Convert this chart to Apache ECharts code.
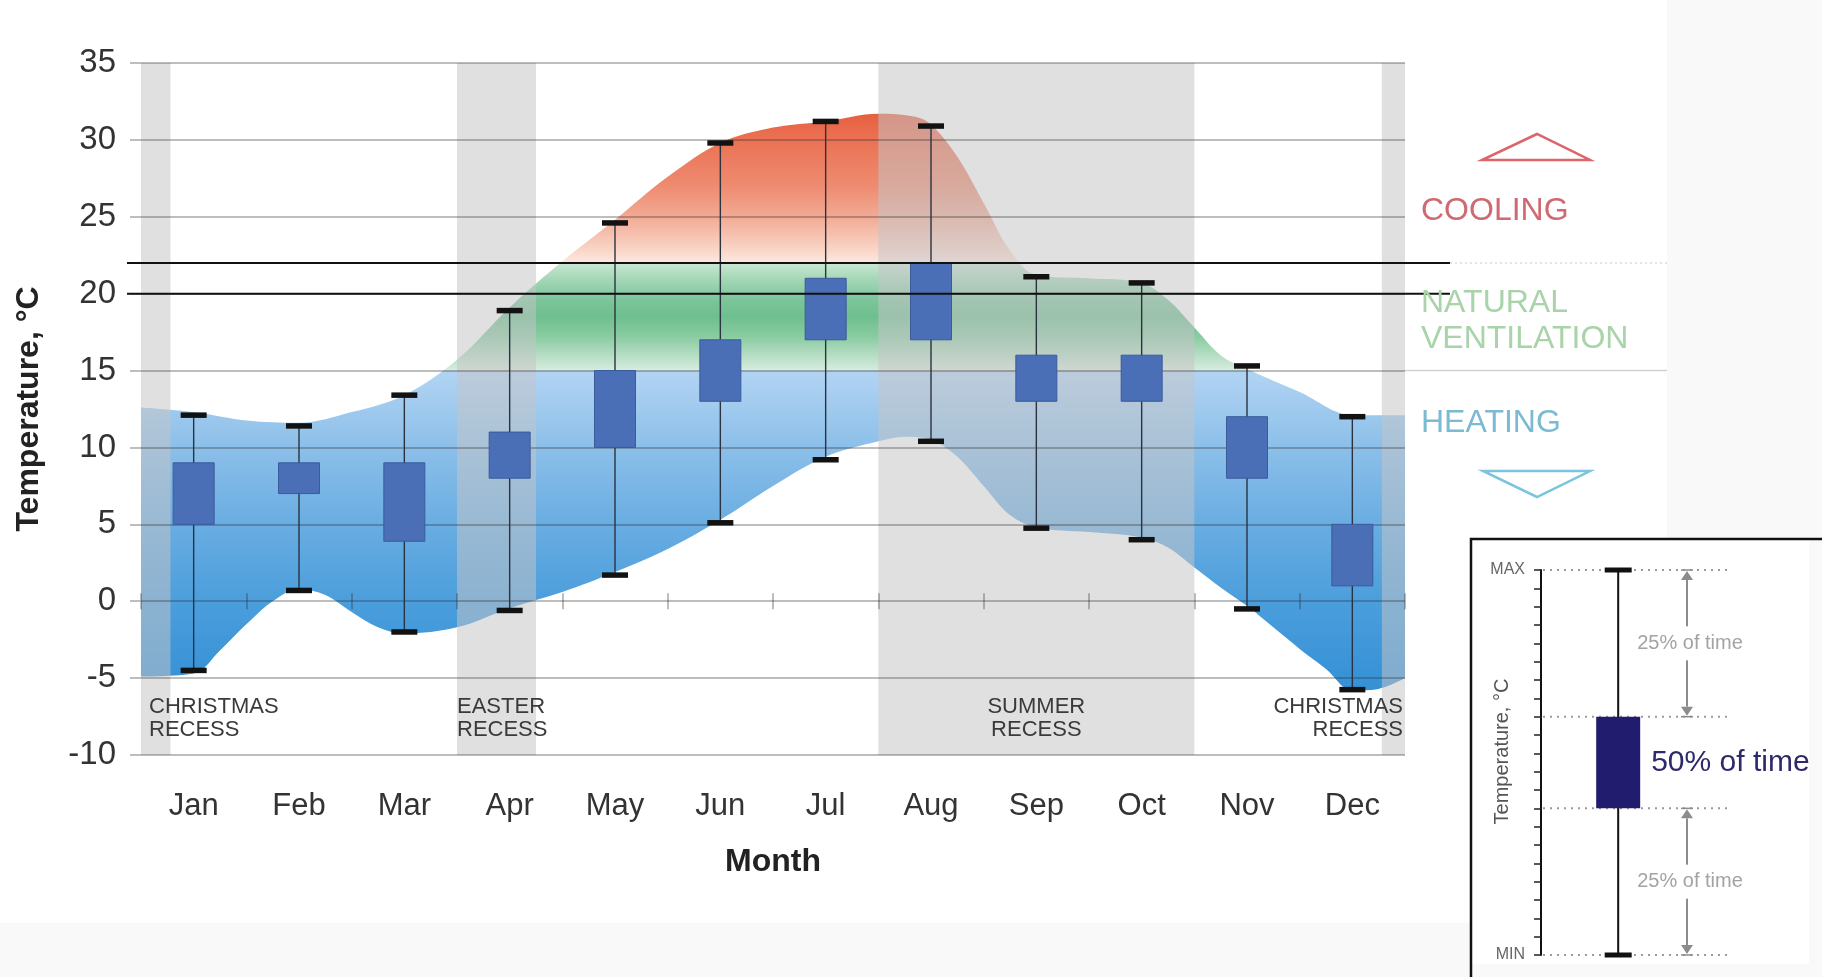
<!DOCTYPE html>
<html>
<head>
<meta charset="utf-8">
<script src="https://cdn.jsdelivr.net/npm/echarts@6/dist/echarts.min.js"></script>
<style>html,body{margin:0;padding:0;background:#fff}#c{width:1822px;height:977px}</style>
</head>
<body>
<div id="c"></div>
<script>
// ---------------- data ----------------
const months = ['Jan','Feb','Mar','Apr','May','Jun','Jul','Aug','Sep','Oct','Nov','Dec'];
const tempMin = [-4.5, 0.7, -2.0, -0.6, 1.7, 5.1, 9.2, 10.4, 4.75, 4.0, -0.5, -5.75];
const tempQ1  = [5, 7, 3.9, 8, 10, 13, 17, 17, 13, 13, 8, 1];
const tempQ3  = [9, 9, 9, 11, 15, 17, 21, 22, 16, 16, 12, 5];
const tempMax = [12.1, 11.4, 13.4, 18.9, 24.6, 29.8, 31.2, 30.9, 21.1, 20.7, 15.3, 12.0];

// envelope (x in months from start of Jan)
const upperEdgeX = [0, 0.5, 1.0, 1.5, 2.0, 2.5, 3.0, 3.5, 4.0, 4.5, 5.0, 5.5, 6.0, 6.5, 7.0, 7.35, 7.5, 7.75, 8.0, 8.25, 8.5, 9.0, 9.5, 9.75, 10.0, 10.25, 10.5, 11.0, 11.5, 12.0];
const upperEdgeT = [12.6, 12.3, 11.75, 11.6, 12.3, 13.4, 15.7, 19.1, 22.1, 24.8, 27.6, 29.8, 30.8, 31.2, 31.7, 31.5, 31.0, 28.9, 25.9, 22.8, 21.2, 21.0, 20.7, 19.6, 17.8, 16.0, 15.1, 13.6, 12.1, 12.1];
const lowerEdgeX = [0, 0.5, 0.75, 1.0, 1.25, 1.5, 1.75, 2.0, 2.25, 2.5, 3.0, 3.5, 4.0, 4.5, 5.0, 5.5, 6.0, 6.5, 7.0, 7.25, 7.5, 7.75, 8.0, 8.25, 8.5, 9.0, 9.5, 9.75, 10.0, 10.25, 10.5, 10.75, 11.0, 11.25, 11.5, 11.75, 12.0];
const lowerEdgeT = [-4.9, -4.7, -3.2, -1.5, 0.0, 0.8, 0.4, -0.7, -1.7, -2.1, -1.7, -0.45, 0.6, 1.9, 3.4, 5.3, 7.5, 9.4, 10.4, 10.7, 10.5, 9.4, 7.5, 5.6, 4.8, 4.5, 4.15, 3.5, 2.2, 0.9, -0.3, -1.7, -3.1, -4.4, -5.8, -5.7, -5.0];

const recessLabels = ['CHRISTMAS\nRECESS', 'EASTER\nRECESS', 'SUMMER\nRECESS', 'CHRISTMAS\nRECESS'];
const recessFrom = [0, 3, 7, 11.78];
const recessTo   = [0.28, 3.75, 10, 12];

const coolingAbove = 22;
const heatingBelow = 15;
const comfortLine = 20;
const zoneLabels = ['COOLING', 'NATURAL\nVENTILATION', 'HEATING'];

const keyStats = [0, 8, 13, 21];            // min, q1, q3, max (key box)
const keyNotes = ['25% of time', '50% of time', '25% of time'];
const Y_MIN = -10, Y_MAX = 35, Y_STEP = 5;

// ---------------- styles ----------------
const FONT = '"Liberation Sans", Arial, Helvetica, sans-serif';
const gridColor = 'rgba(45,45,45,0.42)';
const bandFill = 'rgba(197,197,199,0.53)';
const recessAlign = ['left', 'left', 'center', 'right'];
const recessPad = [8, 0, 0, -2];
const recessLabelLevel = -7.6;
const zoneStops = [
  [35, '#e0553b'], [31.7, '#e5603f'], [30.5, '#ea6d4f'], [27, '#ee8b70'], [25, '#f2aa94'],
  [23, '#f9d2c3'], [22.02, '#fde8e0'],
  [21.98, '#c9e7d3'], [21, '#a6d8b8'], [19.6, '#7cc59a'], [18.5, '#6ebf8e'], [17.2, '#8acca2'],
  [16, '#b6ddc4'], [15.02, '#d6ecde'],
  [14.98, '#b2d4f3'], [10, '#8cbfe9'], [5, '#69ade2'], [0, '#4b9edc'], [-5, '#3792d6'], [-10, '#2f8bd3']
];
const keyArrowX = 0.785;

const chart = echarts.init(document.getElementById('c'), null, {renderer: 'canvas', width: 1822, height: 977});

const boxData = months.map((m, i) => [i + 0.5, tempMin[i], tempQ1[i], tempQ3[i], tempMax[i]]);
const recessData = recessFrom.map((s, i) => [s, recessTo[i], i]);

const option = {
  animation: false,
  backgroundColor: '#ffffff',
  textStyle: {fontFamily: FONT},
  grid: [
    {id: 'main', left: 141, right: 417, top: 63, bottom: 222, containLabel: false, outerBoundsMode: 'none'},
    {id: 'key', left: 1541, top: 570, width: 186, height: 385, containLabel: false, outerBoundsMode: 'none'}
  ],
  xAxis: [
    {
      type: 'category', gridIndex: 0, data: months, boundaryGap: true, position: 'bottom',
      axisLine: {show: false, onZero: false}, axisTick: {show: false}, splitLine: {show: false},
      axisLabel: {fontSize: 31, color: '#333', margin: 36, fontFamily: FONT},
      name: 'Month', nameLocation: 'middle', nameGap: 91, nameMoveOverlap: false,
      nameTextStyle: {fontSize: 32, fontWeight: 'bold', color: '#222', fontFamily: FONT}
    },
    {
      type: 'value', gridIndex: 0, min: 0, max: 12, interval: 1, position: 'bottom', z: 4,
      axisLine: {show: false, onZero: true, onZeroAxisIndex: 0},
      axisTick: {show: true, length: 8, inside: false, lineStyle: {color: gridColor, width: 1.5}},
      axisLabel: {show: false}, splitLine: {show: false}
    },
    {
      type: 'value', gridIndex: 0, min: 0, max: 12, interval: 1, position: 'bottom', z: 4,
      axisLine: {show: false, onZero: true, onZeroAxisIndex: 0},
      axisTick: {show: true, length: 8, inside: true, lineStyle: {color: gridColor, width: 1.5}},
      axisLabel: {show: false}, splitLine: {show: false}
    },
    {type: 'value', gridIndex: 1, min: 0, max: 1, show: false}
  ],
  yAxis: [
    {
      type: 'value', gridIndex: 0, min: Y_MIN, max: Y_MAX, interval: Y_STEP, z: 4,
      axisLine: {show: false},
      axisTick: {show: true, length: 11, lineStyle: {color: gridColor, width: 1.5}},
      splitLine: {show: true, lineStyle: {color: gridColor, width: 1.5}},
      axisLabel: {fontSize: 33, color: '#333', margin: 25, fontFamily: FONT, padding: [7, 0, 0, 0]},
      name: 'Temperature, °C', nameLocation: 'middle', nameGap: 96, nameRotate: 90, nameMoveOverlap: false,
      nameTextStyle: {fontSize: 32, fontWeight: 'bold', color: '#222', fontFamily: FONT}
    },
    {
      type: 'value', gridIndex: 1, min: 0, max: 21, interval: 1, z: 6,
      axisLine: {show: true, onZero: false, lineStyle: {color: '#111', width: 2}},
      axisTick: {show: true, length: 7, lineStyle: {color: '#222', width: 1.5}},
      splitLine: {show: false},
      axisLabel: {
        fontSize: 16, color: '#666', margin: 16, fontFamily: FONT,
        formatter: v => v === keyStats[3] ? 'MAX' : (v === keyStats[0] ? 'MIN' : '')
      },
      name: 'Temperature, °C', nameLocation: 'middle', nameGap: 29, nameMoveOverlap: false,
      nameTextStyle: {fontSize: 20, color: '#555', fontFamily: FONT, padding: [0, 0, 0, 22]}
    }
  ],
  series: [
    {
      id: 'envelopeTop', type: 'line', xAxisIndex: 1, yAxisIndex: 0, z: 1, silent: true,
      data: upperEdgeX.map((x, i) => [x, upperEdgeT[i]]),
      smooth: 0.35, symbol: 'none', showSymbol: false,
      lineStyle: {width: 0, opacity: 0},
      areaStyle: {origin: 'start', opacity: 1, color: '#9cc'}
    },
    {
      id: 'envelopeBottom', type: 'line', xAxisIndex: 1, yAxisIndex: 0, z: 2, silent: true,
      data: lowerEdgeX.map((x, i) => [x, lowerEdgeT[i]]),
      smooth: 0.35, symbol: 'none', showSymbol: false,
      lineStyle: {width: 0, opacity: 0},
      areaStyle: {origin: 'start', opacity: 1, color: '#ffffff'}
    },
    {
      id: 'recess', type: 'custom', xAxisIndex: 1, yAxisIndex: 0, z: 3, silent: true,
      data: recessData,
      renderItem: function (params, api) {
        const s = api.value(0), e = api.value(1), idx = api.value(2);
        const cs = params.coordSys;
        const p0 = api.coord([s, 0]), p1 = api.coord([e, 0]);
        const al = recessAlign[idx];
        const tx = al === 'left' ? p0[0] + recessPad[idx] : (al === 'right' ? p1[0] + recessPad[idx] : (p0[0] + p1[0]) / 2);
        const ty = api.coord([s, recessLabelLevel])[1];
        return {
          type: 'group', children: [
            {type: 'rect', shape: {x: p0[0], y: cs.y, width: p1[0] - p0[0], height: cs.height}, style: {fill: bandFill}},
            {type: 'text', style: {text: recessLabels[idx], x: tx, y: ty, align: al, textAlign: al,
              verticalAlign: 'middle', textVerticalAlign: 'middle', fontSize: 22, lineHeight: 23,
              fontFamily: FONT, fill: '#3a3a3a'}}
          ]
        };
      }
    },
    {
      id: 'boxes', type: 'custom', xAxisIndex: 1, yAxisIndex: 0, z: 5, silent: true,
      data: boxData,
      renderItem: function (params, api) {
        const x = api.value(0);
        const pMin = api.coord([x, api.value(1)]);
        const pQ1 = api.coord([x, api.value(2)]);
        const pQ3 = api.coord([x, api.value(3)]);
        const pMax = api.coord([x, api.value(4)]);
        const bw = 41, cw = 26, ch = 5.5;
        return {
          type: 'group', children: [
            {type: 'line', shape: {x1: pMin[0], y1: pMin[1], x2: pMax[0], y2: pMax[1]}, style: {stroke: '#2b3240', lineWidth: 1.4}},
            {type: 'rect', shape: {x: pQ3[0] - bw / 2, y: pQ3[1], width: bw, height: pQ1[1] - pQ3[1]}, style: {fill: '#4a6fb6', stroke: '#3b5b9b', lineWidth: 1}},
            {type: 'rect', shape: {x: pMax[0] - cw / 2, y: pMax[1] - ch / 2, width: cw, height: ch}, style: {fill: '#121212'}},
            {type: 'rect', shape: {x: pMin[0] - cw / 2, y: pMin[1] - ch / 2, width: cw, height: ch}, style: {fill: '#121212'}}
          ]
        };
      }
    },
    {
      id: 'key', type: 'custom', xAxisIndex: 3, yAxisIndex: 1, z: 7, silent: true,
      data: [[0.415].concat(keyStats)],
      renderItem: function (params, api) {
        const x = api.value(0);
        const cs = params.coordSys;
        const pts = [1, 2, 3, 4].map(k => api.coord([x, api.value(k)]));
        const [pMin, pQ1, pQ3, pMax] = pts;
        const ax = api.coord([keyArrowX, 0])[0];
        const ch = [];
        pts.forEach(p => ch.push({type: 'line', shape: {x1: cs.x + 2, y1: p[1], x2: cs.x + cs.width, y2: p[1]},
          style: {stroke: '#9a9a9a', lineWidth: 2, lineDash: [2, 5]}}));
        ch.push({type: 'line', shape: {x1: pMin[0], y1: pMin[1], x2: pMax[0], y2: pMax[1]}, style: {stroke: '#111', lineWidth: 2}});
        const bw = 44, cw = 27, chh = 5;
        ch.push({type: 'rect', shape: {x: pQ3[0] - bw / 2, y: pQ3[1], width: bw, height: pQ1[1] - pQ3[1]}, style: {fill: '#221c6e'}});
        ch.push({type: 'rect', shape: {x: pMax[0] - cw / 2, y: pMax[1] - chh / 2, width: cw, height: chh}, style: {fill: '#111'}});
        ch.push({type: 'rect', shape: {x: pMin[0] - cw / 2, y: pMin[1] - chh / 2, width: cw, height: chh}, style: {fill: '#111'}});
        const arrowCol = '#8c8c8c';
        function arrow(yTop, yBot, note) {
          const mid = (yTop + yBot) / 2, gap = 17, hw = 6, hh = 10;
          ch.push({type: 'line', shape: {x1: ax - hw, y1: yTop, x2: ax + hw, y2: yTop}, style: {stroke: arrowCol, lineWidth: 1.5}});
          ch.push({type: 'polygon', shape: {points: [[ax, yTop + 1], [ax - hw, yTop + hh], [ax + hw, yTop + hh]]}, style: {fill: arrowCol}});
          ch.push({type: 'line', shape: {x1: ax, y1: yTop + hh, x2: ax, y2: mid - gap}, style: {stroke: arrowCol, lineWidth: 2}});
          ch.push({type: 'line', shape: {x1: ax, y1: mid + gap, x2: ax, y2: yBot - hh}, style: {stroke: arrowCol, lineWidth: 2}});
          ch.push({type: 'polygon', shape: {points: [[ax, yBot - 1], [ax - hw, yBot - hh], [ax + hw, yBot - hh]]}, style: {fill: arrowCol}});
          ch.push({type: 'line', shape: {x1: ax - hw, y1: yBot, x2: ax + hw, y2: yBot}, style: {stroke: arrowCol, lineWidth: 1.5}});
          ch.push({type: 'text', style: {text: note, x: ax + 3, y: mid, align: 'center', textAlign: 'center',
            verticalAlign: 'middle', textVerticalAlign: 'middle', fontSize: 20, fontFamily: FONT, fill: '#a3a3a3'}});
        }
        arrow(pMax[1], pQ3[1], keyNotes[0]);
        arrow(pQ1[1], pMin[1], keyNotes[2]);
        ch.push({type: 'text', style: {text: keyNotes[1], x: pQ3[0] + bw / 2 + 11, y: (pQ1[1] + pQ3[1]) / 2,
          align: 'left', textAlign: 'left', verticalAlign: 'middle', textVerticalAlign: 'middle',
          fontSize: 30, fontFamily: FONT, fill: '#2d2a6c'}});
        return {type: 'group', children: ch};
      }
    }
  ]
};

chart.setOption(option);

// ---------- second pass: gradient & decorations placed through the axes ----------
const py = v => chart.convertToPixel({yAxisIndex: 0}, v);
const px = v => chart.convertToPixel({xAxisIndex: 1}, v);
const yTop = py(Y_MAX), yBot = py(Y_MIN);
const zoneGradient = {
  type: 'linear', x: 0, y: yTop, x2: 0, y2: yBot, global: true,
  colorStops: zoneStops.map(s => ({offset: (Y_MAX - s[0]) / (Y_MAX - Y_MIN), color: s[1]}))
};
const plotLeft = px(0), plotRight = px(12);
const legendLeft = 1421, legendEnd = 1667, lineEnd = 1450;

function txt(text, x, y, size, color) {
  return {
    type: 'text', x: x, y: y, z: 20, silent: true,
    style: {text: text, fill: color, fontSize: size, fontFamily: FONT, lineHeight: 36,
      align: 'left', textAlign: 'left', verticalAlign: 'middle', textVerticalAlign: 'middle'}
  };
}

const graphics = [
  // light page margins
  {type: 'rect', z: 0, silent: true, shape: {x: 1667, y: 0, width: 155, height: 977}, style: {fill: '#f9f9f9'}},
  {type: 'rect', z: 0, silent: true, shape: {x: 0, y: 923, width: 1822, height: 54}, style: {fill: '#f9f9f9'}},
  // key frame
  {type: 'rect', z: 1, silent: true, shape: {x: 1471, y: 539, width: 338, height: 425}, style: {fill: '#ffffff'}},
  {type: 'polyline', z: 2, silent: true, shape: {points: [[1471, 990], [1471, 539], [1830, 539]]}, style: {stroke: '#111', lineWidth: 2.5, fill: null}},
  // threshold lines
  {type: 'line', z: 20, silent: true, shape: {x1: plotLeft - 14, y1: py(coolingAbove), x2: lineEnd, y2: py(coolingAbove)}, style: {stroke: '#111', lineWidth: 2}},
  {type: 'line', z: 20, silent: true, shape: {x1: plotLeft - 14, y1: py(comfortLine), x2: lineEnd, y2: py(comfortLine)}, style: {stroke: '#111', lineWidth: 2}},
  // zone legend separators
  {type: 'line', z: 1, silent: true, shape: {x1: plotRight, y1: py(coolingAbove), x2: legendEnd, y2: py(coolingAbove)}, style: {stroke: '#dcdcdc', lineWidth: 1.5, lineDash: [2, 3]}},
  {type: 'line', z: 1, silent: true, shape: {x1: plotRight, y1: py(heatingBelow), x2: legendEnd, y2: py(heatingBelow)}, style: {stroke: '#d2d2d2', lineWidth: 1.5}},
  // triangles
  {type: 'polygon', z: 20, silent: true, shape: {points: [[1482, 160], [1590, 160], [1537, 134]]}, style: {fill: null, stroke: '#dc646a', lineWidth: 2.5}},
  {type: 'polygon', z: 20, silent: true, shape: {points: [[1483, 471], [1590, 471], [1537, 497]]}, style: {fill: null, stroke: '#7cc4dd', lineWidth: 2.5}},
  txt(zoneLabels[0], legendLeft, 211.5, 32, '#cf6a72'),
  txt(zoneLabels[1], legendLeft, 321, 32, '#a9d3a9'),
  txt(zoneLabels[2], legendLeft, 423.5, 32, '#7bbad3')
];

chart.setOption({
  series: [{id: 'envelopeTop', areaStyle: {color: zoneGradient}}],
  graphic: {elements: graphics}
});
</script>
</body>
</html>
